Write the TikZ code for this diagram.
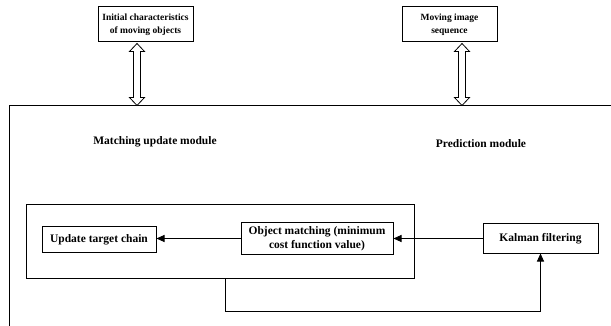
\documentclass[tikz,border=0pt]{standalone}
\usepackage{fontspec}
\setmainfont{Liberation Serif}
\usetikzlibrary{arrows.meta,calc}
\begin{document}
\begin{tikzpicture}[x=1pt,y=-1pt,
  topbox/.style={draw, line width=1pt, align=center, inner sep=0pt, font=\bfseries\fontsize{9.5}{13}\selectfont},
  box/.style={draw, line width=1pt, align=center, inner sep=0pt, font=\bfseries\fontsize{11.5}{13.5}\selectfont},
  modlbl/.style={font=\bfseries\fontsize{11.5}{13}\selectfont},
  arr/.style={-{Triangle[length=8pt,width=7pt]}, line width=0.9pt},
  darrow/.style={draw, line width=0.8pt, fill=white}
]
\useasboundingbox (0,0) rectangle (611,326);
% frame
\coordinate (fl) at (9,326);
\coordinate (ftl) at (9,106);
\coordinate (fr) at (611,106);
\draw[line width=1pt] (fl) -- (ftl) -- (fr);
% top boxes
\node[topbox, minimum width=95pt, minimum height=35pt] (init) at (145.5,24.5) {Initial characteristics\\of moving objects};
\node[topbox, minimum width=95pt, minimum height=35pt] (seq) at (449.5,24.5) {Moving image\\sequence};
\coordinate (a1) at ($(init.south -| 137,0)+(0,1)$);
\coordinate (a2) at ($(seq.south -| 462,0)+(0,1)$);
\foreach \s in {a1,a2}{
  \draw[darrow] (\s) -- ++(7.5,8) -- ++(-4,0) -- ++(0,46) -- ++(4,0) -- ++(-7.5,8)
    -- ++(-7.5,-8) -- ++(4,0) -- ++(0,-46) -- ++(-4,0) -- cycle;
}
% module labels
\node[modlbl] (mu) at (155,142) {Matching update module};
\node[modlbl] (pm) at (481,144) {Prediction module};
% inner box
\node[draw, line width=1pt, minimum width=388pt, minimum height=73pt, inner sep=0pt] (inner) at (220,241.5) {};
\node[box, minimum width=114pt, minimum height=25pt] (upd) at (99,239.5) {Update target chain};
\node[box, minimum width=152pt, minimum height=31pt] (om) at (317,238.5) {Object matching (minimum\\cost function value)};
\node[box, minimum width=115pt, minimum height=29pt] (kal) at (540.5,238.5) {Kalman filtering};
\draw[arr] (kal.west) -- (om.west -| om.east);
\draw[arr] (om.west) -- (upd.east |- om.west);
\coordinate (fb) at (225,311);
\draw[arr] (inner.south -| fb) -- (fb) -| (kal.south);
\end{tikzpicture}
\end{document}
